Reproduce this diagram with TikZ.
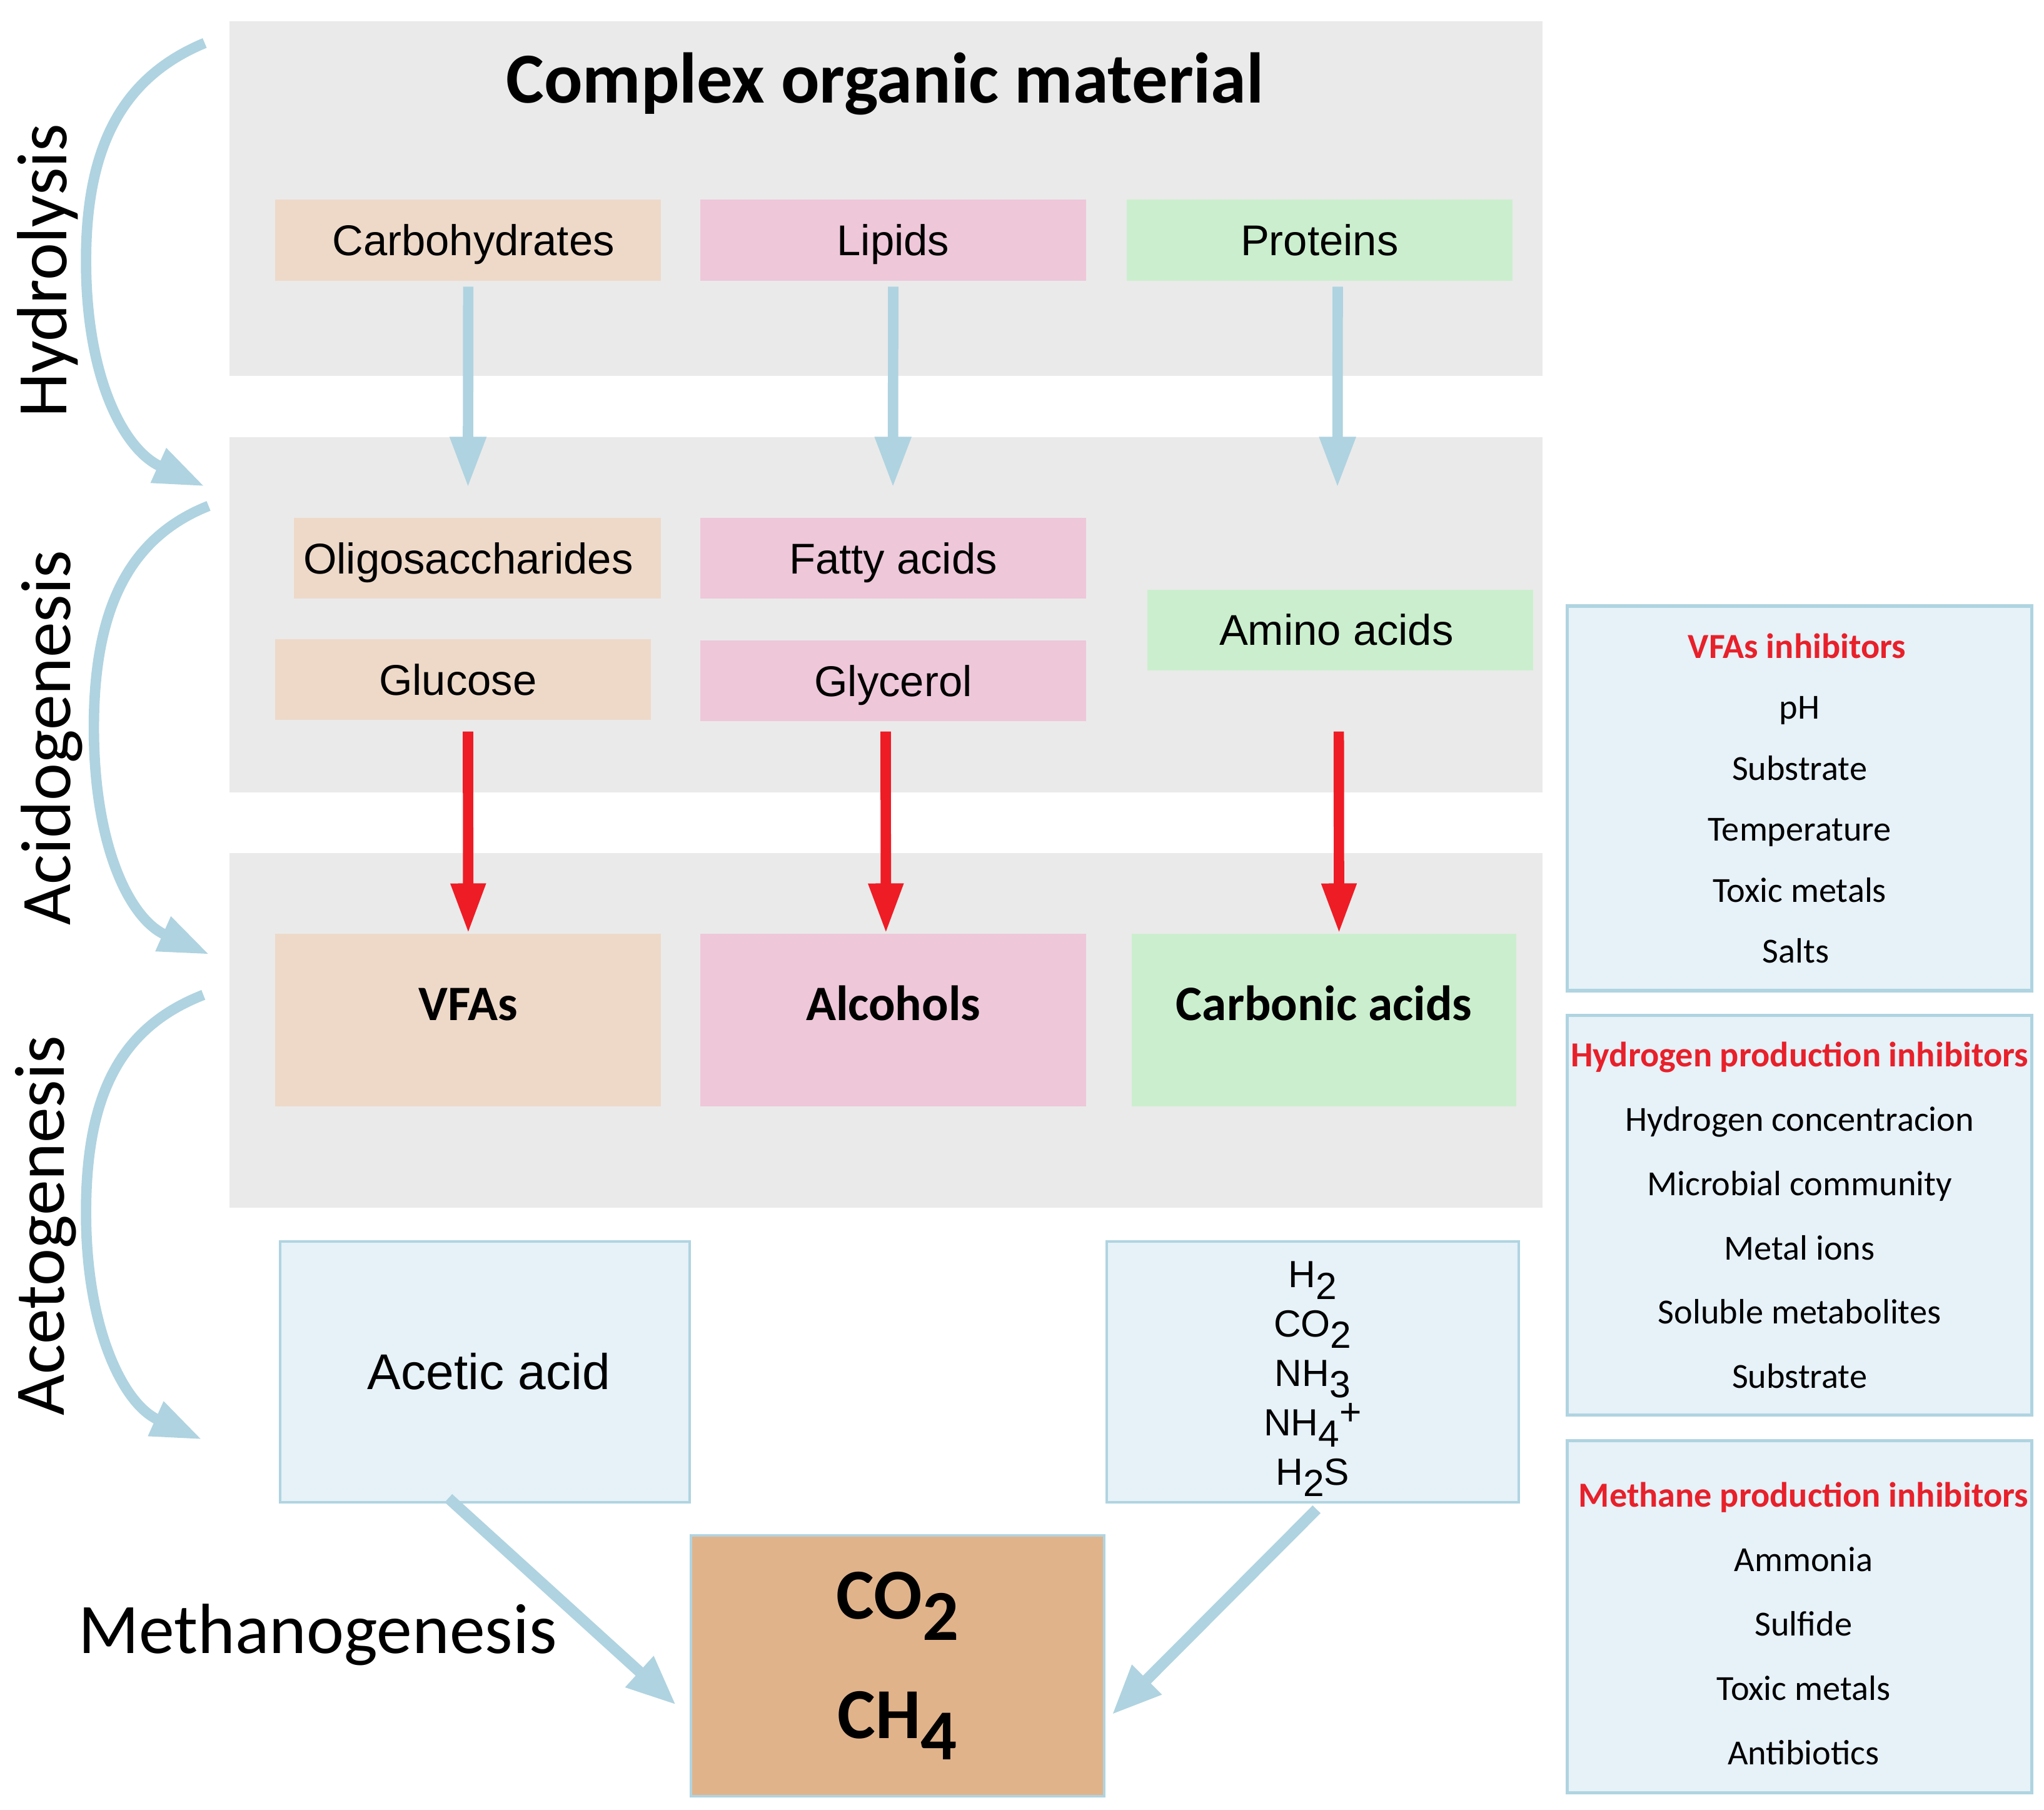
\documentclass[tikz,border=0pt]{standalone}
\usepackage{fontspec}
\setmainfont{Liberation Sans}
\newfontfamily\carl{Carlito}
\usetikzlibrary{arrows.meta}
\definecolor{panelgray}{HTML}{EAEAEA}
\definecolor{peach}{HTML}{EED9C9}
\definecolor{pinkc}{HTML}{EEC7D9}
\definecolor{greenc}{HTML}{CBEFCE}
\definecolor{lblue}{HTML}{E6F1F8}
\definecolor{lborder}{HTML}{B0D4E1}
\definecolor{arrblue}{HTML}{AFD3E0}
\definecolor{arrred}{HTML}{EE1C25}
\definecolor{hdred}{HTML}{E8202A}
\definecolor{ch4c}{HTML}{E1B38B}
\newcommand\csub[1]{\raisebox{-0.3em}{#1}}
\newcommand\csup[1]{\raisebox{0.28em}{#1}}
\tikzset{
  panel/.style={fill=panelgray, draw=none, anchor=north west, inner sep=0pt, minimum width=1007pt},
  srcbox/.style={draw=none, anchor=north west, inner sep=0pt, minimum width=296pt, minimum height=62pt,
    font=\fontsize{33}{40}\selectfont, text height=23.6pt, text depth=0pt},
  prodbox/.style={draw=none, anchor=north west, inner sep=0pt, minimum width=296pt, minimum height=132.5pt,
    font=\carl\bfseries\fontsize{38}{46}\selectfont, text height=0pt, text depth=0pt},
  outbox/.style={fill=lblue, draw=lborder, line width=2pt, anchor=north west, inner sep=0pt},
  inhbox/.style={fill=lblue, draw=lborder, line width=2.5pt, anchor=north west, inner sep=0pt,
    minimum width=356.5pt, align=center},
  stagelabel/.style={font=\carl\fontsize{54.5}{60}\selectfont, inner sep=0pt},
  bluearr/.style={draw=arrblue, line width=8pt, -{Triangle[width=26pt,length=39pt]}},
  curvearr/.style={draw=arrblue, line width=8pt, -{Triangle[width=27pt,length=39pt]}},
  diagarr/.style={draw=arrblue, line width=8.5pt, -{Triangle[width=30pt,length=38pt]}},
  redarr/.style={draw=arrred, line width=8pt, -{Triangle[width=25pt,length=38.5pt]}},
}
\begin{document}
\begin{tikzpicture}[x=1pt,y=-1pt]
\useasboundingbox (0,0) rectangle (1568,1388.1);

% stage panels
\node[panel, minimum height=272pt] (hydpanel) at (176,16) {};
\node[panel, minimum height=272.5pt] (acipanel) at (176,335) {};
\node[panel, minimum height=272pt] (acepanel) at (176,654) {};

\node[font=\carl\bfseries\fontsize{55}{66}\selectfont, anchor=base, inner sep=0pt] (title) at (679,79) {Complex organic material};

% sources
\node[srcbox, fill=peach] (carb) at (211,153) {\hspace*{8pt}Carbohydrates};
\node[srcbox, fill=pinkc] (lip) at (537,153) {Lipids};
\node[srcbox, fill=greenc] (prot) at (864,153) {Proteins};

% intermediates
\node[srcbox, fill=peach, minimum width=282pt] (oligo) at (225,397) {Oligosaccharides\hspace*{14pt}};
\node[srcbox, fill=pinkc] (fatty) at (537,397) {Fatty acids};
\node[srcbox, fill=peach, minimum width=288pt] (gluc) at (211,490) {Glucose\hspace*{8pt}};
\node[srcbox, fill=pinkc] (glyc) at (537,491) {Glycerol};
\node[srcbox, fill=greenc] (amino) at (880,452) {Amino acids\hspace*{6pt}};

% products
\node[prodbox, fill=peach] (vfa) at (211,716) {VFAs};
\node[prodbox, fill=pinkc] (alc) at (537,716) {Alcohols};
\node[prodbox, fill=greenc, minimum width=295pt] (carbac) at (868,716) {Carbonic acids};

% acetogenesis outputs
\node[outbox, minimum width=314pt, minimum height=200pt, font=\fontsize{38.5}{46}\selectfont] (acetic) at (214,951) {\hspace*{6pt}Acetic acid};
\node[outbox, minimum width=316pt, minimum height=200pt, align=center, font=\fontsize{29}{37.8}\selectfont] (gas) at (848,951)
  {\rule{0pt}{31pt}H\csub{2}\\CO\csub{2}\\NH\csub{3}\\NH\csub{4}\csup{+}\\H\csub{2}S};
\node[outbox, fill=ch4c, minimum width=317pt, minimum height=200pt, align=center, font=\carl\bfseries\fontsize{55}{91.5}\selectfont] (final) at (529,1176.5)
  {CO\csub{2}\\CH\csub{4}};

% inhibitors
\node[inhbox, minimum height=295pt, font=\carl\fontsize{27}{46.8}\selectfont] (inhvfa) at (1201,463.5)
  {\textcolor{hdred}{\bfseries VFAs inhibitors}\hspace*{4pt}\\pH\hspace*{6pt}\\Substrate\hspace*{6pt}\\Temperature\\Toxic metals\\Salts\hspace*{6pt}};
\node[inhbox, minimum height=306.5pt, font=\carl\fontsize{27}{49.3}\selectfont] (inhhyd) at (1201,777.5)
  {\textcolor{hdred}{\bfseries Hydrogen production inhibitors}\\Hydrogen concentracion\\Microbial community\\Metal ions\\Soluble metabolites\\Substrate};
\node[inhbox, minimum height=270pt, font=\carl\fontsize{27}{49.4}\selectfont] (inhmet) at (1201,1103.5)
  {\rule{0pt}{30pt}\hspace*{6pt}\textcolor{hdred}{\bfseries Methane production inhibitors}\\\hspace*{6pt}Ammonia\\\hspace*{6pt}Sulfide\\\hspace*{6pt}Toxic metals\\\hspace*{6pt}Antibiotics};

% stage labels
\node[stagelabel, rotate=90, anchor=base] (lhyd) at (51,207.5) {Hydrolysis};
\node[stagelabel, rotate=90, anchor=base] (laci) at (54,566) {Acidogenesis};
\node[stagelabel, rotate=90, anchor=base] (lace) at (49,940) {Acetogenesis};
\node[stagelabel, anchor=base west] (lmet) at (60,1268) {Methanogenesis};

% hydrolysis arrows
\coordinate (bt1) at (359,374);
\coordinate (bt2) at (685,374);
\coordinate (bt3) at (1026,374);
\draw[bluearr] ([yshift=-4.5pt]carb.south) -- (bt1);
\draw[bluearr] ([yshift=-4.5pt]lip.south) -- (bt2);
\draw[bluearr] ([xshift=14pt,yshift=-4.5pt]prot.south) -- (bt3);

% acidogenesis arrows
\coordinate (rs1) at (359,561);
\coordinate (rs2) at (679.4,561);
\coordinate (rs3) at (1027,561);
\draw[redarr] (rs1) -- (vfa.north);
\draw[redarr] (rs2) -- ([xshift=-5.6pt]alc.north);
\draw[redarr] (rs3) -- ([xshift=11.5pt]carbac.north);

% methanogenesis arrows
\coordinate (ds1) at (344,1149);
\coordinate (de1) at (518.6,1307.5);
\coordinate (ds2) at (1010,1157.5);
\coordinate (de2) at (853,1315);
\draw[diagarr] (ds1) -- (de1);
\draw[diagarr] (ds2) -- (de2);

% stage curved arrows
\coordinate (c1s) at (157,33);
\coordinate (c1e) at (157,373);
\coordinate (c2s) at (160,388);
\coordinate (c2e) at (160.7,732);
\coordinate (c3s) at (156,763);
\coordinate (c3e) at (155,1104);
\draw[curvearr] (c1s) .. controls (92,60) and (66,115) .. (66,200) .. controls (66,290) and (95,345) .. (c1e);
\draw[curvearr] (c2s) .. controls (97,413) and (72,470) .. (72,558) .. controls (72,650) and (100,705) .. (c2e);
\draw[curvearr] (c3s) .. controls (92,788) and (66,840) .. (66,930) .. controls (66,1020) and (95,1077) .. (c3e);
\end{tikzpicture}
\end{document}
